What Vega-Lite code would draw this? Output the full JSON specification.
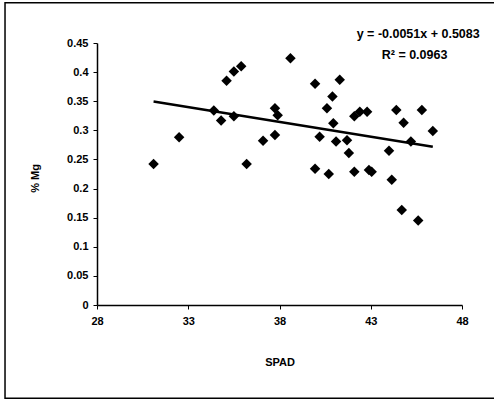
{
  "$schema": "https://vega.github.io/schema/vega-lite/v6.json",
  "width": 365,
  "height": 262,
  "autosize": {"type": "none"},
  "padding": {"left": 97, "top": 43, "right": 32, "bottom": 97},
  "background": "white",
  "config": {
    "view": {"stroke": null},
    "font": "Liberation Sans",
    "axis": {
      "domainColor": "black",
      "domainWidth": 1.5,
      "tickColor": "black",
      "tickSize": 4,
      "tickWidth": 1,
      "grid": false,
      "labelOverlap": false,
      "labelFlush": false,
      "labelFont": "Liberation Sans",
      "labelFontWeight": "bold",
      "labelFontSize": 11,
      "labelColor": "black",
      "titleFont": "Liberation Sans",
      "titleFontWeight": "bold",
      "titleFontSize": 11,
      "titleColor": "black"
    }
  },
  "layer": [
    {
      "data": {"values": [
        {"SPAD": 31.1, "Mg": 0.242},
        {"SPAD": 32.5, "Mg": 0.288},
        {"SPAD": 34.4, "Mg": 0.334},
        {"SPAD": 34.8, "Mg": 0.317},
        {"SPAD": 35.1, "Mg": 0.385},
        {"SPAD": 35.5, "Mg": 0.401},
        {"SPAD": 35.9, "Mg": 0.41},
        {"SPAD": 35.5, "Mg": 0.324},
        {"SPAD": 36.2, "Mg": 0.242},
        {"SPAD": 37.1, "Mg": 0.282},
        {"SPAD": 37.75, "Mg": 0.292},
        {"SPAD": 37.75, "Mg": 0.338},
        {"SPAD": 37.9, "Mg": 0.326},
        {"SPAD": 38.6, "Mg": 0.424},
        {"SPAD": 39.95, "Mg": 0.38},
        {"SPAD": 40.2, "Mg": 0.289},
        {"SPAD": 39.95, "Mg": 0.234},
        {"SPAD": 40.7, "Mg": 0.225},
        {"SPAD": 40.6, "Mg": 0.338},
        {"SPAD": 40.9, "Mg": 0.358},
        {"SPAD": 40.95, "Mg": 0.312},
        {"SPAD": 41.3, "Mg": 0.387},
        {"SPAD": 41.1, "Mg": 0.281},
        {"SPAD": 41.7, "Mg": 0.283},
        {"SPAD": 41.8, "Mg": 0.261},
        {"SPAD": 42.1, "Mg": 0.229},
        {"SPAD": 42.1, "Mg": 0.324},
        {"SPAD": 42.4, "Mg": 0.332},
        {"SPAD": 42.8, "Mg": 0.332},
        {"SPAD": 42.9, "Mg": 0.232},
        {"SPAD": 43.05, "Mg": 0.229},
        {"SPAD": 44.0, "Mg": 0.265},
        {"SPAD": 44.15, "Mg": 0.215},
        {"SPAD": 44.4, "Mg": 0.335},
        {"SPAD": 44.8, "Mg": 0.313},
        {"SPAD": 45.2, "Mg": 0.281},
        {"SPAD": 45.8, "Mg": 0.335},
        {"SPAD": 46.4, "Mg": 0.299},
        {"SPAD": 44.7, "Mg": 0.163},
        {"SPAD": 45.6, "Mg": 0.145}
      ]},
      "mark": {"type": "point", "shape": "diamond", "filled": true, "color": "black", "size": 110, "opacity": 1},
      "encoding": {
        "x": {
          "field": "SPAD", "type": "quantitative",
          "scale": {"domain": [28, 48], "nice": false, "zero": false},
          "axis": {"values": [28, 33, 38, 43, 48], "tickCount": 20, "title": "SPAD", "labelPadding": 6, "titleY": 57, "titleBaseline": "middle"}
        },
        "y": {
          "field": "Mg", "type": "quantitative",
          "scale": {"domain": [0, 0.45], "nice": false},
          "axis": {"values": [0, 0.05, 0.1, 0.15, 0.2, 0.25, 0.3, 0.35, 0.4, 0.45], "tickCount": 20, "format": ".2~f", "title": "% Mg", "labelPadding": 5, "titleX": -62, "titleY": 135, "titleBaseline": "middle"}
        }
      }
    },
    {
      "data": {"values": [
        {"SPAD": 31.1, "Mg": 0.3497},
        {"SPAD": 46.4, "Mg": 0.2717}
      ]},
      "mark": {"type": "line", "color": "black", "strokeWidth": 2.5},
      "encoding": {
        "x": {"field": "SPAD", "type": "quantitative"},
        "y": {"field": "Mg", "type": "quantitative"}
      }
    },
    {
      "data": {"values": [{"t": "y = -0.0051x + 0.5083"}]},
      "mark": {"type": "text", "font": "Liberation Sans", "fontWeight": "bold", "fontSize": 12.5, "color": "black", "align": "center", "baseline": "middle"},
      "encoding": {
        "x": {"datum": 45.6},
        "y": {"datum": 0.465},
        "text": {"field": "t"}
      }
    },
    {
      "data": {"values": [{"t": "R² = 0.0963"}]},
      "mark": {"type": "text", "font": "Liberation Sans", "fontWeight": "bold", "fontSize": 12.5, "color": "black", "align": "center", "baseline": "middle"},
      "encoding": {
        "x": {"datum": 45.4},
        "y": {"datum": 0.43},
        "text": {"field": "t"}
      }
    },
    {
      "data": {"values": [{"frame": "chart area"}]},
      "mark": {"type": "rect", "fill": null, "stroke": "black", "strokeWidth": 1.5, "clip": false},
      "encoding": {
        "x": {"datum": 22.96},
        "x2": {"datum": 50.2},
        "y": {"datum": 0.519},
        "y2": {"datum": -0.16}
      }
    }
  ]
}
